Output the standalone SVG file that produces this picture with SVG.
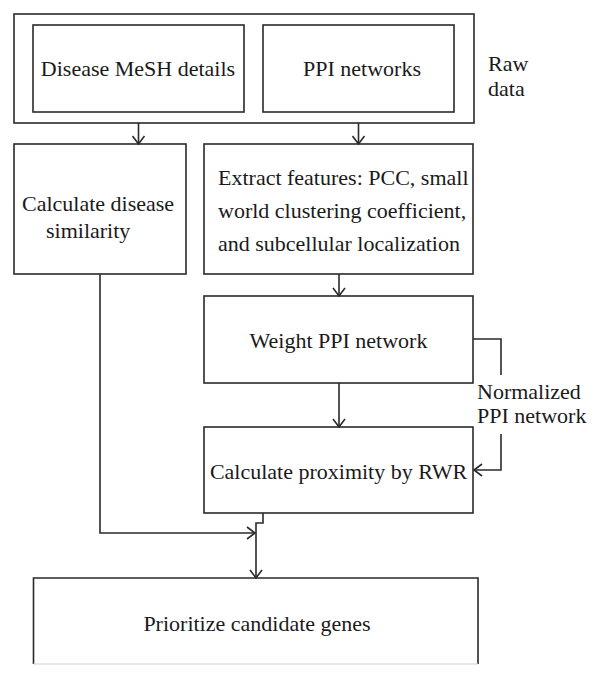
<svg xmlns="http://www.w3.org/2000/svg" width="600" height="679" viewBox="0 0 600 679">
<defs>
<style>
.box{fill:#fff;stroke:#2a2a2a;stroke-width:1.6}
.t{font-family:"Liberation Serif","DejaVu Serif",serif;font-size:22px;fill:#1a1a1a}
.c{text-anchor:middle}
.ln{fill:none;stroke:#2a2a2a;stroke-width:1.6}
</style>
<marker id="ah" markerUnits="userSpaceOnUse" markerWidth="12" markerHeight="14" viewBox="-10 -7 12 14" refX="0" refY="0" orient="auto">
<path d="M-8,-6 L0,0 L-8,6" fill="none" stroke="#2a2a2a" stroke-width="1.6"/>
</marker>
</defs>
<rect width="600" height="679" fill="#fff"/>
<g id="raw-data">
<rect class="box" x="14" y="14" width="460" height="109"/>
<text class="t" x="488" y="71">Raw</text>
<text class="t" x="488" y="96">data</text>
</g>
<g id="disease-mesh">
<rect class="box" x="33" y="25" width="211" height="87"/>
<text class="t c" x="138" y="76">Disease MeSH details</text>
</g>
<g id="ppi-networks">
<rect class="box" x="263" y="25" width="191" height="87"/>
<text class="t c" x="362" y="76">PPI networks</text>
</g>
<g id="calc-similarity">
<rect class="box" x="14" y="144" width="172" height="130"/>
<text class="t" x="22" y="211">Calculate disease</text>
<text class="t" x="46" y="238">similarity</text>
</g>
<g id="extract-features">
<rect class="box" x="204" y="144" width="269" height="130"/>
<text class="t" x="218" y="185">Extract features: PCC, small</text>
<text class="t" x="218" y="218">world clustering coefficient,</text>
<text class="t" x="218" y="251">and subcellular localization</text>
</g>
<g id="weight-ppi">
<rect class="box" x="204" y="296" width="269" height="87"/>
<text class="t c" x="338.5" y="348">Weight PPI network</text>
</g>
<g id="proximity-rwr">
<rect class="box" x="204" y="427" width="269" height="86"/>
<text class="t c" x="338.5" y="479">Calculate proximity by RWR</text>
</g>
<g id="prioritize">
<path d="M33.5,664 L33.5,578 L478,578 L478,664" class="ln"/>
<line x1="33.5" y1="664" x2="478" y2="664" stroke="#cfcfcf" stroke-width="1.2"/>
<text class="t c" x="257" y="631">Prioritize candidate genes</text>
</g>
<g id="connectors">
<line class="ln" x1="138.5" y1="123" x2="138.5" y2="144" marker-end="url(#ah)"/>
<line class="ln" x1="358.5" y1="123" x2="358.5" y2="144" marker-end="url(#ah)"/>
<line class="ln" x1="339" y1="274" x2="339" y2="296" marker-end="url(#ah)"/>
<line class="ln" x1="339" y1="383" x2="339" y2="427" marker-end="url(#ah)"/>
<polyline class="ln" points="473,339 501,339 501,375"/>
<polyline class="ln" points="501,434 501,470 474,470" marker-end="url(#ah)"/>
<text class="t" x="477" y="399">Normalized</text>
<text class="t" x="477" y="423">PPI network</text>
<polyline class="ln" points="100,274 100,533 255,533" marker-end="url(#ah)"/>
<polyline class="ln" points="263,513 263,523 256,523 256,578" marker-end="url(#ah)"/>
</g>
</svg>
